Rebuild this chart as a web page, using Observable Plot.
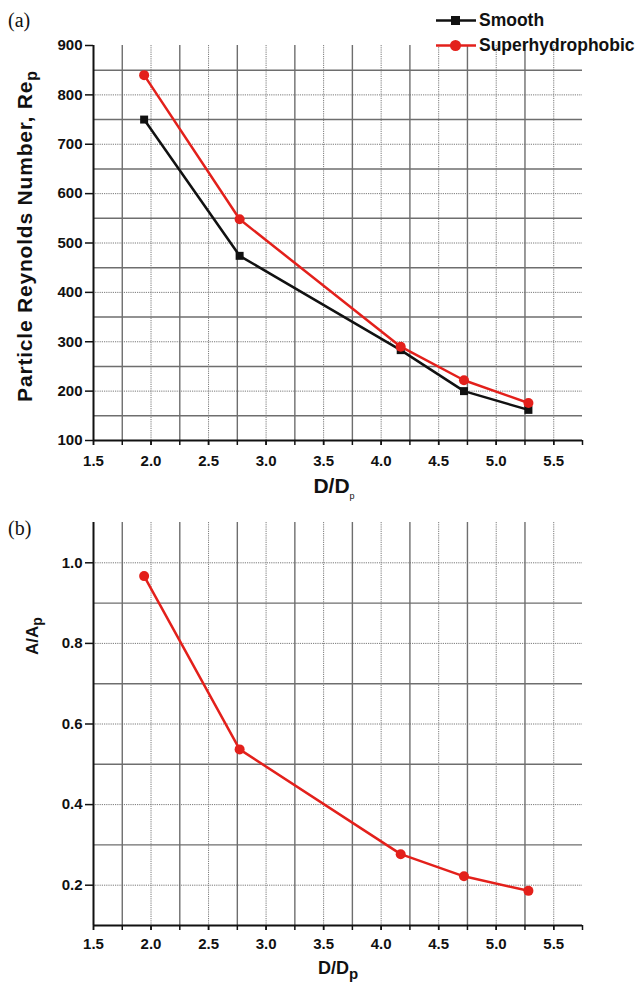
<!DOCTYPE html>
<html>
<head>
<meta charset="utf-8">
<script src="https://cdn.jsdelivr.net/npm/d3@7"></script>
<script src="https://cdn.jsdelivr.net/npm/@observablehq/plot@0.6"></script>
<style>
  body { margin: 0; background: #fff; }
  #wrap { position: relative; width: 640px; height: 984px; overflow: hidden; font-family: "Liberation Sans", Arial, sans-serif; }
  #wrap svg { display: block; }
  .lbl { position: absolute; font-weight: bold; color: #111; white-space: nowrap; line-height: 1; }
  .rot { transform: translate(-50%, -50%) rotate(-90deg); }
  .ctr { transform: translate(-50%, -50%); }
  .panel { position: absolute; font-family: "Liberation Serif", "Times New Roman", serif; font-size: 20px; color: #111; line-height: 1; }
  .leg { position: absolute; display: flex; align-items: center; font-weight: bold; font-size: 17.5px; color: #111; white-space: nowrap; line-height: 1; }
</style>
</head>
<body>
<div id="wrap"></div>
<script>
// ---- data ----
const ratio = [1.94, 2.77, 4.17, 4.72, 5.28];           // D/Dp
const reSmooth = [750, 474, 283, 200, 162];             // Re_p smooth
const reSuper = [840, 548, 290, 222, 176];              // Re_p superhydrophobic
const areaRatio = [0.967, 0.537, 0.277, 0.222, 0.186];  // A/Ap

const xMajor = [1.5, 2.0, 2.5, 3.0, 3.5, 4.0, 4.5, 5.0, 5.5];
const xAll = [1.5, 1.75, 2.0, 2.25, 2.5, 2.75, 3.0, 3.25, 3.5, 3.75, 4.0, 4.25, 4.5, 4.75, 5.0, 5.25, 5.5, 5.75];
const xGridMajor = [2.0, 2.5, 3.0, 3.5, 4.0, 4.5, 5.0, 5.5];
const xGridMinor = [1.75, 2.25, 2.75, 3.25, 3.75, 4.25, 4.75, 5.25];

const yaTicks = [100, 200, 300, 400, 500, 600, 700, 800, 900];
const yaGridMajor = [200, 300, 400, 500, 600, 700, 800];
const yaGridMinor = [150, 250, 350, 450, 550, 650, 750, 850];

const ybTicks = [0.2, 0.4, 0.6, 0.8, 1.0];
const ybGridMajor = [0.2, 0.4, 0.6, 0.8, 1.0];
const ybGridMinor = [0.3, 0.5, 0.7, 0.9];

const seriesNames = ["Smooth", "Superhydrophobic"];
const colors = { Smooth: "#111111", Superhydrophobic: "#e3201b" };

const dataA = [
  ...ratio.map((x, i) => ({ x, y: reSmooth[i], s: "Smooth" })),
  ...ratio.map((x, i) => ({ x, y: reSuper[i], s: "Superhydrophobic" }))
];
const dataB = ratio.map((x, i) => ({ x, y: areaRatio[i] }));

const fontStyle = { fontFamily: "'Liberation Sans', Arial, sans-serif", fontWeight: "bold", fontSize: "15px", overflow: "visible", color: "#111" };
const xDomain = [1.5, 5.75];
const gridMajorStyle = { stroke: "#7a7a7a", strokeOpacity: 1, strokeWidth: 1, strokeDasharray: "1.2,1" };
const gridMinorStyle = { stroke: "#6e6e6e", strokeOpacity: 1, strokeWidth: 1.4 };

function commonX(pad) {
  return [
    Plot.gridX(xGridMajor, gridMajorStyle),
    Plot.gridX(xGridMinor, gridMinorStyle),
    Plot.axisX({ ticks: xAll, tickSize: 5, tickFormat: () => "", strokeWidth: 1.5 }),
    Plot.axisX({ ticks: xMajor, tickSize: 5, tickPadding: pad, tickFormat: d3.format(".1f"), label: null, strokeWidth: 1.5 })
  ];
}

const plotA = Plot.plot({
  width: 640, height: 490,
  marginTop: 45, marginBottom: 50, marginLeft: 93, marginRight: 58,
  style: fontStyle,
  x: { domain: xDomain, label: null },
  y: { domain: [100, 900], label: null },
  marks: [
    Plot.gridY(yaGridMajor, gridMajorStyle),
    Plot.gridY(yaGridMinor, gridMinorStyle),
    ...commonX(10),
    Plot.axisY({ ticks: yaTicks, tickSize: 8, tickPadding: 3, label: null, strokeWidth: 1.5 }),
    Plot.ruleY([100], { stroke: "#111", strokeWidth: 2 }),
    Plot.ruleX([1.5], { stroke: "#111", strokeWidth: 2 }),
    Plot.line(dataA, { x: "x", y: "y", z: "s", stroke: d => colors[d.s], strokeWidth: 2.5 }),
    Plot.dot(dataA.filter(d => d.s === "Smooth"), { x: "x", y: "y", symbol: "square", r: 4.5, fill: colors.Smooth, stroke: "none" }),
    Plot.dot(dataA.filter(d => d.s === "Superhydrophobic"), { x: "x", y: "y", symbol: "circle", r: 5, fill: colors.Superhydrophobic, stroke: "none" })
  ]
});

const plotB = Plot.plot({
  width: 640, height: 494,
  marginTop: 32, marginBottom: 59, marginLeft: 93, marginRight: 58,
  style: fontStyle,
  x: { domain: xDomain, label: null },
  y: { domain: [0.1, 1.1], label: null },
  marks: [
    Plot.gridY(ybGridMajor, gridMajorStyle),
    Plot.gridY(ybGridMinor, gridMinorStyle),
    ...commonX(8),
    Plot.axisY({ ticks: ybTicks, tickSize: 8, tickPadding: 3, tickFormat: d3.format(".1f"), label: null, strokeWidth: 1.5 }),
    Plot.ruleY([0.1], { stroke: "#111", strokeWidth: 2 }),
    Plot.ruleX([1.5], { stroke: "#111", strokeWidth: 2 }),
    Plot.line(dataB, { x: "x", y: "y", stroke: colors.Superhydrophobic, strokeWidth: 2.5 }),
    Plot.dot(dataB, { x: "x", y: "y", r: 5, fill: colors.Superhydrophobic, stroke: "none" })
  ]
});

const wrap = document.getElementById("wrap");
wrap.appendChild(plotA);
wrap.appendChild(plotB);

function addHTML(html) {
  const t = document.createElement("template");
  t.innerHTML = html.trim();
  wrap.appendChild(t.content.firstChild);
}

// panel tags
addHTML(`<div class="panel" style="left:8px;top:10px">(a)</div>`);
addHTML(`<div class="panel" style="left:8px;top:518px">(b)</div>`);

// axis labels
addHTML(`<div class="lbl rot" style="left:27px;top:236px;font-size:21px;letter-spacing:0.8px">Particle Reynolds Number, Re<sub style="font-size:16px">p</sub></div>`);
addHTML(`<div class="lbl ctr" style="left:334px;top:488px;font-size:21px">D/D<sub style="font-size:9px;font-weight:normal">p</sub></div>`);
addHTML(`<div class="lbl rot" style="left:34px;top:636px;font-size:17px">A/A<sub style="font-size:14px">p</sub></div>`);
addHTML(`<div class="lbl ctr" style="left:338px;top:970px;font-size:18px">D/D<sub style="font-size:15px">p</sub></div>`);

// legend
function legendItem(name, top, symbol) {
  const c = colors[name];
  const mark = symbol === "square"
    ? `<rect x="15" y="2" width="9" height="9" fill="${c}"/>`
    : `<circle cx="19.5" cy="6.5" r="5.5" fill="${c}"/>`;
  addHTML(`<div class="leg" style="left:436px;top:${top}px">
    <svg width="40" height="13" style="margin-right:3px"><line x1="0" x2="40" y1="6.5" y2="6.5" stroke="${c}" stroke-width="2.5"/>${mark}</svg>${name}</div>`);
}
legendItem(seriesNames[0], 12, "square");
legendItem(seriesNames[1], 37, "circle");
</script>
</body>
</html>
